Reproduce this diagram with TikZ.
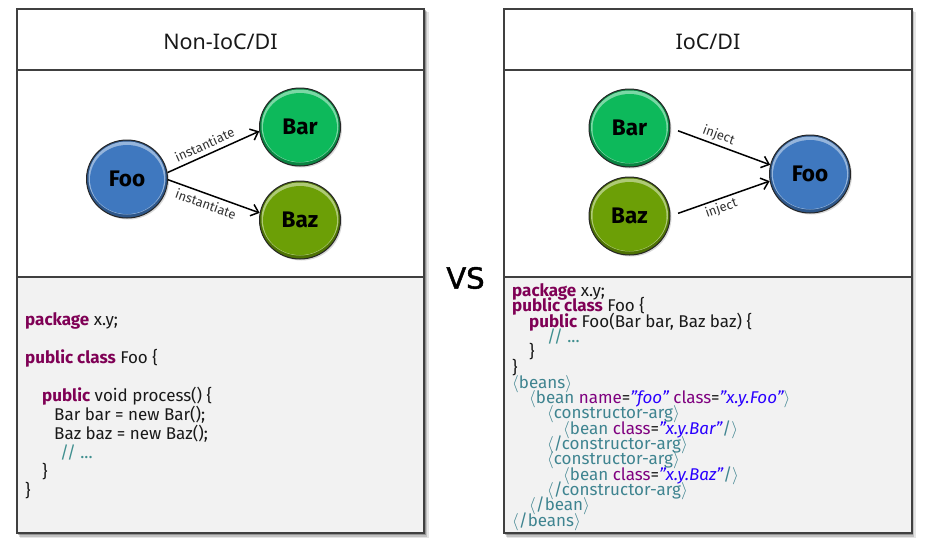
\documentclass[tikz,border=0pt]{standalone}
\usepackage{fontspec}
\setmainfont{Fira Sans}
\newfontfamily\titlefont{Noto Sans}
\newfontfamily\vsfont[FakeBold=1.6]{DejaVu Sans}
\usetikzlibrary{shapes.geometric,arrows.meta,shadows}

\definecolor{fooblue}{HTML}{3F78BF}
\definecolor{bargreen}{HTML}{0DB95B}
\definecolor{bazolive}{HTML}{6C9F06}
\definecolor{kwc}{HTML}{7F0055}
\definecolor{tagc}{HTML}{3F8490}
\definecolor{attrc}{HTML}{7F007F}
\definecolor{valc}{HTML}{2A00FF}
\definecolor{cmtc}{HTML}{3F8F8F}
\definecolor{codebg}{HTML}{F2F2F2}
\definecolor{framec}{HTML}{404040}

% syntax colouring helpers
\newcommand\kw[1]{\textcolor{kwc}{\bfseries #1}}
\newcommand\tg[1]{\textcolor{tagc}{#1}}
\newcommand\attr[1]{\textcolor{attrc}{#1}}
\newcommand\vl[1]{\textcolor{valc}{\itshape #1}}
\newcommand\cmt[1]{\textcolor{cmtc}{#1}}
\newcommand\tagL{\textcolor{tagc}{$\langle$}}
\newcommand\tagR{\textcolor{tagc}{$\rangle$}}

\tikzset{
  frameline/.style={draw=framec, line width=1.1pt},
  title/.style={font=\titlefont\fontsize{21.5}{24}\selectfont, text=black!90},
  ball/.style={ellipse, draw=black!85, line width=1pt, minimum width=81pt,
    minimum height=78pt, inner sep=0pt, fill=#1,
    font=\fontsize{22.5}{25}\selectfont\bfseries, text=black,
    drop shadow={shadow xshift=1.5pt, shadow yshift=-1.5pt, opacity=0.3},
    path picture={
      \fill[#1!72!black] (path picture bounding box.south west)
        rectangle (path picture bounding box.north east);
      \fill[#1!55!white] ([yshift=1pt]path picture bounding box.center)
        ellipse [x radius=38.5pt, y radius=36.5pt];
      \fill[#1] ([yshift=-0.5pt]path picture bounding box.center)
        ellipse [x radius=37pt, y radius=34.5pt];
    }},
  link/.style={line width=1.5pt, black,
    -{Straight Barb[length=7pt, width=12pt]}},
  lbl/.style={font=\fontsize{13}{15}\selectfont, text=black!80, inner sep=2.5pt},
  code/.style={anchor=base west, inner sep=0pt,
    font=\fontsize{17}{19}\selectfont, text=black!90},
}

\begin{document}
\begin{tikzpicture}[x=1pt, y=-1pt]
  \fill[white] (0,0) rectangle (934,550);
  \useasboundingbox (0,0) rectangle (934,550);

  % soft shadows behind both panels
  \foreach \px in {17, 504} {
    \fill[black, opacity=0.10] (\px+3, 12) rectangle (\px+412, 538);
    \fill[black, opacity=0.15] (\px+2, 11) rectangle (\px+410, 536.5);
    \fill[black, opacity=0.25] (\px+1, 10) rectangle (\px+409, 535);
  }

  % ---------- left panel ----------
  \fill[white] (17,9) rectangle (424,277);
  \fill[codebg] (17,277) rectangle (424,533);
  \draw[frameline] (17,70) -- (424,70);
  \draw[frameline] (17,277) -- (424,277);
  \draw[frameline] (17,9) rectangle (424,533);
  \node[title] (ltitle) at (220.5,42) {Non-IoC/DI};

  \node[ball=fooblue]   (lfoo) at (127,179) {Foo};
  \node[ball=bargreen]  (lbar) at (300,127) {Bar};
  \node[ball=bazolive]  (lbaz) at (300,220) {Baz};

  \draw[link] (lfoo.9) -- node[lbl, sloped, above, pos=0.45, inner sep=4.5pt] {instantiate} (lbar.186);
  \draw[link] (lfoo.-1) -- node[lbl, sloped, below, pos=0.45, inner sep=4pt] {instantiate} (lbaz.170);

  \node[code] (lc1) at (25,325) {\kw{package} x.y;};
  \node[code] (lc2) at (25,363) {\kw{public class} Foo \{};
  \node[code] (lc3) at (42,401) {\kw{public} void process() \{};
  \node[code] (lc4) at (54,420) {Bar bar = new Bar();};
  \node[code] (lc5) at (54,439) {Baz baz = new Baz();};
  \node[code] (lc6) at (60,458) {\cmt{// ...}};
  \node[code] (lc7) at (42,477) {\}};
  \node[code] (lc8) at (25,496) {\}};

  % ---------- versus ----------
  \node[font=\vsfont\fontsize{29}{32}\selectfont, text=black] (vs) at (465.5,278) {VS};

  % ---------- right panel ----------
  \fill[white] (504,9) rectangle (912,277);
  \fill[codebg] (504,277) rectangle (912,533);
  \draw[frameline] (504,70) -- (912,70);
  \draw[frameline] (504,277) -- (912,277);
  \draw[frameline] (504,9) rectangle (912,533);
  \node[title] (rtitle) at (708,42) {IoC/DI};

  \node[ball=bargreen]  (rbar) at (629.5,128) {Bar};
  \node[ball=bazolive]  (rbaz) at (629.5,216) {Baz};
  \node[ball=fooblue]   (rfoo) at (810,174) {Foo};

  \draw[link, shorten <=8pt] (rbar.east) -- node[lbl, sloped, above, pos=0.45] {inject} (rfoo.167);
  \draw[link, shorten <=8pt] (rbaz.east) -- node[lbl, sloped, below, pos=0.48] {inject} (rfoo.190);

  \node[code] (rc1)  at (512,296.5) {\kw{package} x.y;};
  \node[code] (rc2)  at (512,311.8) {\kw{public class} Foo \{};
  \node[code] (rc3)  at (529,327.1) {\kw{public} Foo(Bar bar, Baz baz) \{};
  \node[code] (rc4)  at (547,342.4) {\cmt{// ...}};
  \node[code] (rc5)  at (529,357.7) {\}};
  \node[code] (rc6)  at (512,373.0) {\}};
  \node[code] (rc7)  at (512,388.3) {\tagL\tg{beans}\tagR};
  \node[code] (rc8)  at (529,403.6) {\tagL\tg{bean} \attr{name}=\vl{"foo"} \attr{class}=\vl{"x.y.Foo"}\tagR};
  \node[code] (rc9)  at (547,418.9) {\tagL\tg{constructor-arg}\tagR};
  \node[code] (rc10) at (563,434.2) {\tagL\tg{bean} \attr{class}=\vl{"x.y.Bar"}\tg{/}\tagR};
  \node[code] (rc11) at (547,449.5) {\tagL\tg{/constructor-arg}\tagR};
  \node[code] (rc12) at (547,464.8) {\tagL\tg{constructor-arg}\tagR};
  \node[code] (rc13) at (563,480.1) {\tagL\tg{bean} \attr{class}=\vl{"x.y.Baz"}\tg{/}\tagR};
  \node[code] (rc14) at (547,495.4) {\tagL\tg{/constructor-arg}\tagR};
  \node[code] (rc15) at (529,510.7) {\tagL\tg{/bean}\tagR};
  \node[code] (rc16) at (512,526.0) {\tagL\tg{/beans}\tagR};
\end{tikzpicture}
\end{document}
